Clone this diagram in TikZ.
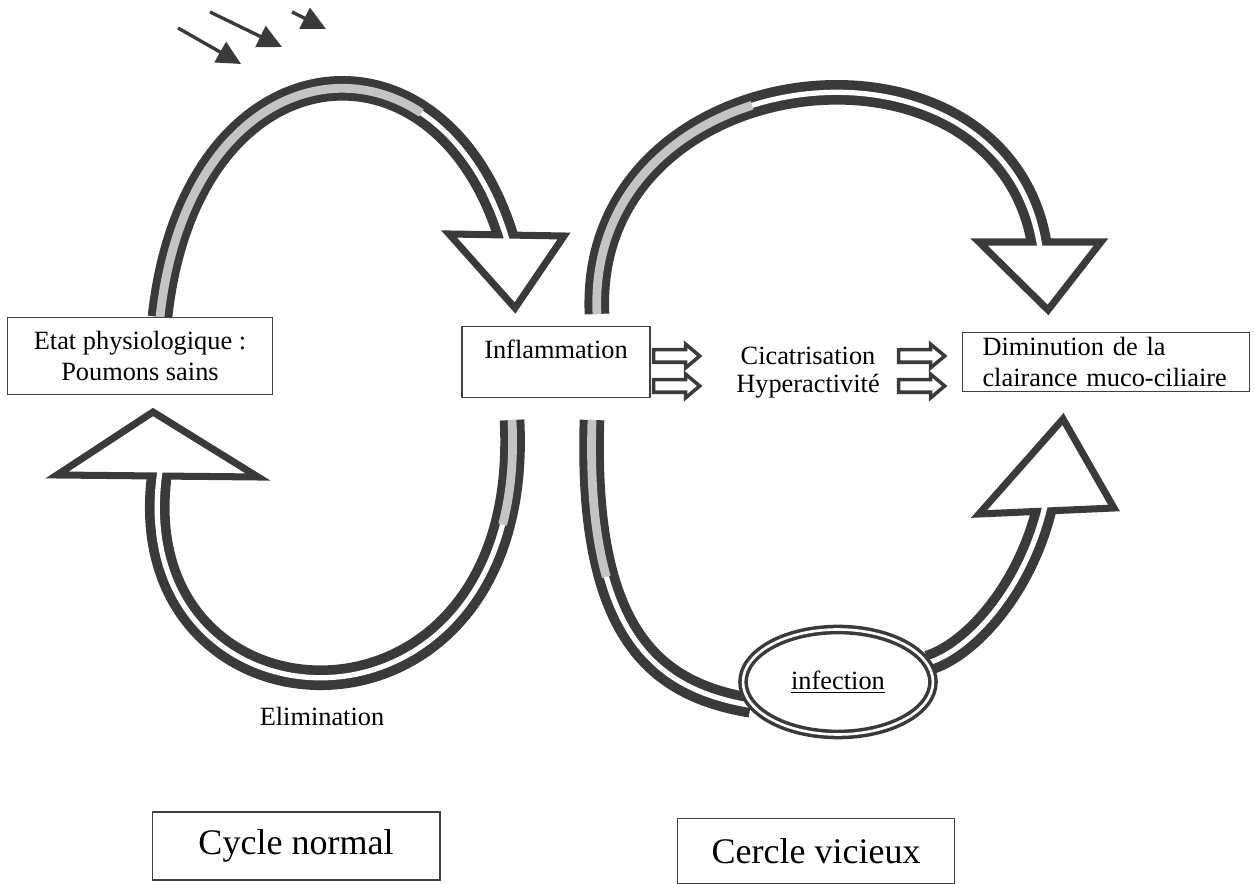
\documentclass[tikz,border=0pt]{standalone}
\usepackage{fontspec}
\setmainfont{Liberation Serif}
\usetikzlibrary{shapes, shapes.geometric, shapes.arrows, arrows.meta, positioning, calc}
\definecolor{bandgray}{HTML}{3A3A3A}
\definecolor{dotgray}{HTML}{C4C4C4}
\pgfdeclarelayer{background}
\pgfsetlayers{background,main}

\begin{document}
\begin{tikzpicture}[
        x=0.02cm, y=-0.02cm,
        every node/.style={font=\fontsize{15}{18}\selectfont, inner sep=0pt},
        box/.style={draw=black!75, line width=0.6pt, align=center},
        band/.style={draw=bandgray, line width=14pt},
        stripe/.style={draw=white, line width=3pt},
        dotstripe/.style={draw=dotgray, line width=5pt, dash pattern=on #1 off 3000pt},
        head/.style={draw=bandgray, fill=white, line width=4pt, line join=miter},
        blockarrow/.style={single arrow, draw=bandgray, fill=white, line width=2pt, minimum height=0.92cm, inner sep=0.09cm, single arrow head extend=0.11cm, single arrow tip angle=80},
        smallarrow/.style={-{Triangle[length=0.48cm, width=0.46cm]}, draw=bandgray, line width=1.9pt}
        ]
        \useasboundingbox (0,0) rectangle (1255,884);

        % boites
        \node (etat) [box, minimum width=5.3cm, minimum height=1.54cm] at (140,356) {Etat physiologique :\\Poumons sains};
        \node (inflam) [box, minimum width=3.76cm, minimum height=1.42cm] at (556,362) {\raisebox{0.5cm}{Inflammation}};
        \node (dimin) [box, align=left, text width=4.94cm, minimum height=1.18cm, inner xsep=0.4cm] at (1106,362) {Diminution de la\\clairance muco-ciliaire};
        \node (infect) [ellipse, draw=bandgray, double=white, double distance=1.5pt, line width=2pt, fill=white, minimum width=3.8cm, minimum height=2.1cm] at (838,682) {\underline{infection}};

        \node (cicat) at (808,356) {Cicatrisation};
        \node (hyper) at (808,386) {Hyperactivité};
        \node (ar1) [blockarrow] at (673,356) {};
        \node (ar2) [blockarrow] at (673,386) {};
        \node (ar3) [blockarrow] at (918,356) {};
        \node (ar4) [blockarrow] at (918,386) {};

        \node (elim) at (322,716) {Elimination};
        \node (cycle) [box, font=\fontsize{20.5}{24}\selectfont, minimum width=5.76cm, minimum height=1.36cm] at (296,846) {Cycle normal};
        \node (cercle) [box, font=\fontsize{20.5}{24}\selectfont, minimum width=5.54cm, minimum height=1.3cm] at (816,851) {Cercle vicieux};

        % bouts des bandes
        \coordinate (s1) at (160,317);
        \coordinate (e1) at (507,240);
        \coordinate (s2) at (512,420);
        \coordinate (e2) at (160,471);
        \coordinate (s3) at (597,314);
        \coordinate (e3) at (1040,248);
        \coordinate (s4) at (592,420);
        \coordinate (e4) at (1045,506);

        % petites fleches
        \coordinate (r1a) at (178,28);
        \coordinate (r1b) at (241,64);
        \coordinate (r2a) at (210,12);
        \coordinate (r2b) at (282,47);
        \coordinate (r3a) at (292,12);
        \coordinate (r3b) at (326,29);
        \draw[smallarrow] (r1a) -- (r1b);
        \draw[smallarrow] (r2a) -- (r2b);
        \draw[smallarrow] (r3a) -- (r3b);

        \begin{pgfonlayer}{background}
        \draw[band] (s1) .. controls (190,40) and (440,15) .. (e1);
        \draw[band] (s2) .. controls (530,765) and (120,745) .. (e2);
        \draw[band] (s3) .. controls (585,55) and (1005,10) .. (e3);
        \draw[band] (s4) .. controls (585,640) and (660,690) .. (infect.195);
        \draw[band] (infect.12) .. controls (970,650) and (1025,590) .. (e4);

        \draw[head] (449,234) -- (515,308) -- (564,236) -- cycle;
        \draw[head] (57,475) -- (153,412) -- (258,477) -- cycle;
        \draw[head] (979,242) -- (1048,310) -- (1101,242) -- cycle;
        \draw[head] (979,514) -- (1063,419) -- (1114,508) -- cycle;

        \draw[stripe] (s1) .. controls (190,40) and (440,15) .. (e1);
        \draw[stripe] (s2) .. controls (530,765) and (120,745) .. (e2);
        \draw[stripe] (s3) .. controls (585,55) and (1005,10) .. (e3);
        \draw[stripe] (s4) .. controls (585,640) and (660,690) .. (infect.195);
        \draw[stripe] (infect.12) .. controls (970,650) and (1025,590) .. (e4);

        \draw[dotstripe=230pt] (s1) .. controls (190,40) and (440,15) .. (e1);
        \draw[dotstripe=60pt] (s2) .. controls (530,765) and (120,745) .. (e2);
        \draw[dotstripe=160pt] (s3) .. controls (585,55) and (1005,10) .. (e3);
        \draw[dotstripe=90pt] (s4) .. controls (585,640) and (660,690) .. (infect.195);
        \end{pgfonlayer}
    \end{tikzpicture}
\end{document}
